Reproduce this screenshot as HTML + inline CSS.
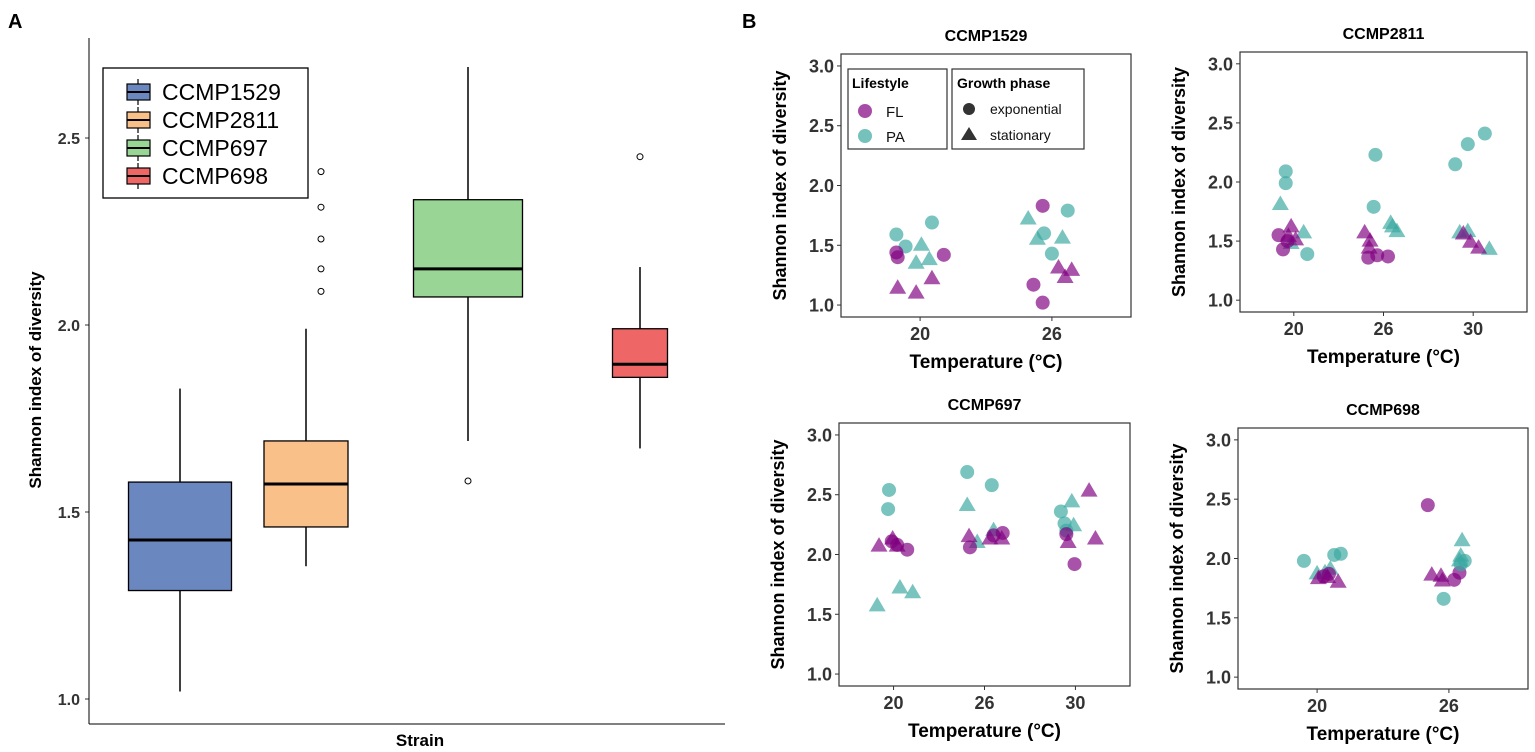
<!DOCTYPE html>
<html><head><meta charset="utf-8"><style>
body{margin:0;background:#fff;width:1535px;height:752px;overflow:hidden}
svg{display:block;font-family:"Liberation Sans",Arial,sans-serif}
.tk{font-weight:bold;fill:#333}
.tt{font-weight:bold;fill:#000}
</style></head><body>
<svg id="fig" width="1535" height="752" viewBox="0 0 1535 752"></svg>
<script>
// ===== Panel A data =====
const aStrains=["CCMP1529","CCMP2811","CCMP697","CCMP698"];
const aWhiskLo=[1.02,1.355,1.69,1.67];
const aQ1=[1.29,1.46,2.075,1.86];
const aMed=[1.425,1.575,2.15,1.895];
const aQ3=[1.58,1.69,2.335,1.99];
const aWhiskHi=[1.83,1.99,2.69,2.155];
const aOutliers=[[],[2.41,2.315,2.23,2.15,2.09],[1.583],[2.45]];
const aTicks=[1.0,1.5,2.0,2.5];
const aColors=["#6b87bf","#f9c08a","#99d595","#ef6667"];
// ===== Panel B data (cat index, jitter in category units, value, lifestyle, phase) =====
const p1Temps=["20","26"];
const p1Cat=[0,0,0,0,0,0,0,0,0,0,0,0,1,1,1,1,1,1,1,1,1,1,1,1];
const p1Jit=[-0.18,-0.11,0.09,0.01,-0.03,0.07,-0.18,-0.17,0.18,-0.17,-0.03,0.09,-0.07,-0.14,-0.07,0.05,0.15,0.10,-0.06,0,0.12,-0.18,-0.11,0.08];
const p1Val=[1.59,1.49,1.69,1.50,1.35,1.38,1.44,1.40,1.42,1.14,1.10,1.22,1.83,1.17,1.02,1.31,1.29,1.23,1.60,1.43,1.79,1.72,1.55,1.56];
const p1Life=["PA","PA","PA","PA","PA","PA","FL","FL","FL","FL","FL","FL","FL","FL","FL","FL","FL","FL","PA","PA","PA","PA","PA","PA"];
const p1Phase=["e","e","e","s","s","s","e","e","e","s","s","s","e","e","e","s","s","s","e","e","e","s","s","s"];

const p2Temps=["20","26","30"];
const p2Cat=[0,0,0,0,0,0,0,0,0,0,0,0,1,1,1,1,1,1,1,1,1,1,1,2,2,2,2,2,2,2,2,2];
const p2Jit=[-0.09,-0.09,0.15,-0.15,0.11,-0.03,-0.17,-0.12,-0.07,-0.03,-0.06,0.02,-0.09,-0.11,0.08,0.15,-0.17,-0.07,0.05,-0.21,-0.15,-0.16,0.10,-0.2,-0.06,0.13,-0.15,-0.06,0.18,-0.03,0.06,-0.11];
const p2Val=[2.09,1.99,1.39,1.81,1.57,1.48,1.55,1.43,1.50,1.62,1.54,1.51,2.23,1.79,1.65,1.58,1.36,1.38,1.37,1.57,1.50,1.44,1.62,2.15,2.32,2.41,1.57,1.58,1.43,1.49,1.44,1.56];
const p2Life=["PA","PA","PA","PA","PA","PA","FL","FL","FL","FL","FL","FL","PA","PA","PA","PA","FL","FL","FL","FL","FL","FL","PA","PA","PA","PA","PA","PA","PA","FL","FL","FL"];
const p2Phase=["e","e","e","s","s","s","e","e","e","s","s","s","e","e","s","s","e","e","e","s","s","s","s","e","e","e","s","s","s","s","s","s"];

const p3Temps=["20","26","30"];
const p3Cat=[0,0,0,0,0,0,0,0,0,0,0,1,1,1,1,1,1,1,1,1,1,1,2,2,2,2,2,2,2,2,2,2];
const p3Jit=[-0.05,-0.06,-0.18,0.07,0.21,-0.16,-0.01,0.04,-0.02,0.15,0.04,-0.19,0.08,-0.19,-0.08,0.10,-0.16,0.2,0.1,-0.17,0.06,0.19,-0.16,-0.12,-0.10,-0.04,-0.02,-0.10,-0.01,-0.08,0.15,0.22];
const p3Val=[2.54,2.38,1.57,1.72,1.68,2.07,2.13,2.07,2.11,2.04,2.08,2.69,2.58,2.41,2.10,2.20,2.06,2.18,2.16,2.15,2.13,2.13,2.36,2.26,2.20,2.44,2.24,2.17,1.92,2.10,2.53,2.13];
const p3Life=["PA","PA","PA","PA","PA","FL","FL","FL","FL","FL","FL","PA","PA","PA","PA","PA","FL","FL","FL","FL","FL","FL","PA","PA","PA","PA","PA","FL","FL","FL","FL","FL"];
const p3Phase=["e","e","s","s","s","s","s","s","e","e","e","e","e","s","s","s","e","e","e","s","s","s","e","e","e","s","s","e","e","s","s","s"];

const p4Temps=["20","26"];
const p4Cat=[0,0,0,0,0,0,0,0,0,0,0,1,1,1,1,1,1,1,1,1,1,1,1];
const p4Jit=[-0.1,0.13,0.18,0,0.06,0.1,0.01,0.08,0.16,0.09,0.05,-0.16,0.04,0.08,-0.13,-0.06,-0.05,-0.04,0.12,0.09,0.10,0.09,0.08];
const p4Val=[1.98,2.03,2.04,1.87,1.88,1.91,1.83,1.84,1.80,1.87,1.85,2.45,1.82,1.88,1.86,1.85,1.81,1.66,1.98,1.95,2.15,2.02,1.98];
const p4Life=["PA","PA","PA","PA","PA","PA","FL","FL","FL","FL","FL","FL","FL","FL","FL","FL","FL","PA","PA","PA","PA","PA","PA"];
const p4Phase=["e","e","e","s","s","s","s","s","s","e","e","e","e","e","s","s","s","e","e","e","s","s","s"];

const bTicks=[1.0,1.5,2.0,2.5,3.0];

const NS="http://www.w3.org/2000/svg";
const svg=document.getElementById('fig');
function mk(tag,attrs,parent,text){const e=document.createElementNS(NS,tag);for(const k in attrs)e.setAttribute(k,attrs[k]);if(text!==undefined)e.textContent=text;(parent||svg).appendChild(e);return e;}

// ---------- Panel A ----------
const gA=mk('g',{});


const aL=89,aB=724,aT=38,aR=725;
function ayS(v){return 699-(v-1)*374;}
const aCenters=[180,306,468,640];
const aWidths=[103,84,109,55];
const aOutShift=[0,15,0,0];
const lbA=mk('text',{x:8,y:28,'font-size':20,'font-weight':'bold'},gA,'A');


aTicks.forEach(t=>{
  mk('line',{x1:aL-4,x2:aL,y1:ayS(t),y2:ayS(t),stroke:'#333','stroke-width':1},gA);
  const tl=mk('text',{x:aL-9,y:ayS(t)+6,'text-anchor':'end','font-size':16,class:'tk'},gA,t.toFixed(1));
  
  
});
mk('line',{x1:aL,x2:aL,y1:aT,y2:aB,stroke:'#000','stroke-width':1},gA);
mk('line',{x1:aL,x2:aR,y1:aB,y2:aB,stroke:'#000','stroke-width':1},gA);
const ayt=mk('text',{transform:'translate(41,380) rotate(-90)','text-anchor':'middle','font-size':17,class:'tt'},gA,'Shannon index of diversity');


const axt=mk('text',{x:420,y:746,'text-anchor':'middle','font-size':17,class:'tt'},gA,'Strain');


aStrains.forEach((s,i)=>{
  const c=aCenters[i],w=aWidths[i];
  const g=mk('g',{},gA);
  
  
  mk('line',{x1:c,x2:c,y1:ayS(aWhiskHi[i]),y2:ayS(aQ3[i]),stroke:'#000','stroke-width':1.5},g);
  mk('line',{x1:c,x2:c,y1:ayS(aQ1[i]),y2:ayS(aWhiskLo[i]),stroke:'#000','stroke-width':1.5},g);
  mk('rect',{x:c-w/2,y:ayS(aQ3[i]),width:w,height:ayS(aQ1[i])-ayS(aQ3[i]),fill:aColors[i],stroke:'#000','stroke-width':1.3},g);
  mk('line',{x1:c-w/2,x2:c+w/2,y1:ayS(aMed[i]),y2:ayS(aMed[i]),stroke:'#000','stroke-width':3},g);
  aOutliers[i].forEach(o=>{
    const oc=mk('circle',{cx:c+aOutShift[i],cy:ayS(o),r:3,fill:'#fff',stroke:'#000','stroke-width':1},g);
    
    
  });
});
const legA=mk('g',{},gA);


mk('rect',{x:103,y:68,width:205,height:130,fill:'#fff',stroke:'#000','stroke-width':1.3},legA);
aStrains.forEach((s,i)=>{
  const y=92+i*28;
  const e=mk('g',{},legA);
  
  
  mk('line',{x1:138,x2:138,y1:y-13,y2:y+13,stroke:'#000','stroke-width':1.2},e);
  mk('rect',{x:127,y:y-8,width:23,height:16,fill:aColors[i],stroke:'#000','stroke-width':1.2},e);
  mk('line',{x1:127,x2:150,y1:y,y2:y,stroke:'#000','stroke-width':2},e);
  mk('text',{x:162,y:y+8,'font-size':23,fill:'#000'},e,s);
});

// ---------- Panel B ----------
const lbB=mk('text',{x:742,y:28,'font-size':20,'font-weight':'bold'},null,'B');


const COL={FL:'#800080',PA:'#3aa8a0'};
function panel(name,box,temps,cat,jit,val,life,phase){
  const [L,T,R,B]=box;
  const g=mk('g',{});
  
  
  const n=temps.length, unit=(R-L)/(n-1+1.2);
  const xS=c=>L+(0.6+c)*unit;
  const yS=v=>B-(v-0.9)/2.2*(B-T);
  mk('rect',{x:L,y:T,width:R-L,height:B-T,fill:'#fff',stroke:'#333','stroke-width':1.2},g);
  const tt=mk('text',{x:(L+R)/2,y:T-13,'text-anchor':'middle','font-size':16,class:'tt'},g,name);
  
  
  bTicks.forEach(t=>{
    mk('line',{x1:L-4,x2:L,y1:yS(t),y2:yS(t),stroke:'#333'},g);
    const tl=mk('text',{x:L-7,y:yS(t)+6.5,'text-anchor':'end','font-size':18,class:'tk'},g,t.toFixed(1));
    
    
  });
  temps.forEach((t,i)=>{
    mk('line',{x1:xS(i),x2:xS(i),y1:B,y2:B+4,stroke:'#333'},g);
    const tl=mk('text',{x:xS(i),y:B+23,'text-anchor':'middle','font-size':18,class:'tk'},g,t);
    
    
  });
  const xt=mk('text',{x:(L+R)/2,y:B+51,'text-anchor':'middle','font-size':19,class:'tt'},g,'Temperature (°C)');
  
  
  const yt=mk('text',{transform:`translate(${L-55},${(T+B)/2}) rotate(-90)`,'text-anchor':'middle','font-size':18,class:'tt'},g,'Shannon index of diversity');
  
  
  val.forEach((v,i)=>{
    const cx=xS(cat[i]+jit[i]),cy=yS(v);
    let m;
    if(phase[i]==='e') m=mk('circle',{cx:cx,cy:cy,r:7,fill:COL[life[i]],'fill-opacity':0.68},g);
    else m=mk('polygon',{points:`${cx},${cy-9} ${cx-8.5},${cy+5.5} ${cx+8.5},${cy+5.5}`,fill:COL[life[i]],'fill-opacity':0.68},g);
    
    
  });
  return g;
}
const g1=panel('CCMP1529',[841,54,1131,317],p1Temps,p1Cat,p1Jit,p1Val,p1Life,p1Phase);
panel('CCMP2811',[1240,52,1527,312],p2Temps,p2Cat,p2Jit,p2Val,p2Life,p2Phase);
panel('CCMP697',[839,423,1130,686],p3Temps,p3Cat,p3Jit,p3Val,p3Life,p3Phase);
panel('CCMP698',[1238,428,1528,689],p4Temps,p4Cat,p4Jit,p4Val,p4Life,p4Phase);

// legend in panel 1
const lg=mk('g',{},g1);


mk('rect',{x:848,y:69,width:99,height:80,fill:'#fff',stroke:'#333','stroke-width':1.2},lg);
mk('text',{x:852,y:88,'font-size':14,class:'tt'},lg,'Lifestyle');
mk('circle',{cx:865,cy:111,r:7,fill:COL.FL,'fill-opacity':0.7},lg);
mk('text',{x:886,y:117,'font-size':15,fill:'#111'},lg,'FL');
mk('circle',{cx:865,cy:136,r:7,fill:COL.PA,'fill-opacity':0.7},lg);
mk('text',{x:886,y:142,'font-size':15,fill:'#111'},lg,'PA');
mk('rect',{x:952,y:69,width:132,height:80,fill:'#fff',stroke:'#333','stroke-width':1.2},lg);
mk('text',{x:957,y:88,'font-size':14,class:'tt'},lg,'Growth phase');
mk('circle',{cx:969,cy:109,r:6,fill:'#333'},lg);
mk('text',{x:990,y:114,'font-size':14,fill:'#111'},lg,'exponential');
mk('polygon',{points:'969,127 961,140 977,140',fill:'#333'},lg);
mk('text',{x:990,y:140,'font-size':14,fill:'#111'},lg,'stationary');
</script>
</body></html>
